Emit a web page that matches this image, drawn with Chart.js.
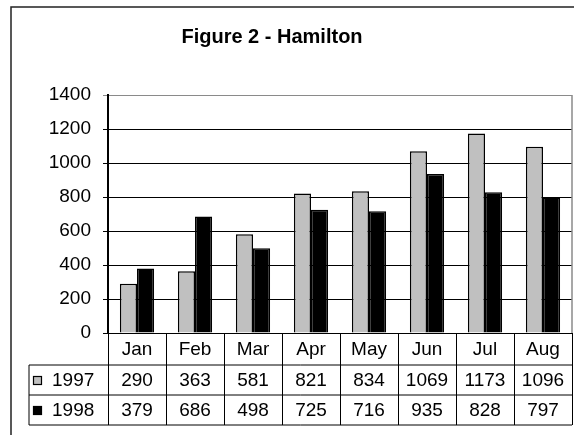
<!DOCTYPE html>
<html>
<head>
<meta charset="utf-8">
<script src="https://cdn.jsdelivr.net/npm/chart.js@4/dist/chart.umd.min.js"></script>
<style>
html, body { margin: 0; padding: 0; background: #fff; }
#wrap { width: 574px; height: 435px; position: relative; }
</style>
</head>
<body>
<div id="wrap"><canvas id="hamilton"></canvas></div>
<script>
var months = ["Jan", "Feb", "Mar", "Apr", "May", "Jun", "Jul", "Aug"];
var seriesNames = ["1997", "1998"];
var values1997 = [290, 363, 581, 821, 834, 1069, 1173, 1096];
var values1998 = [379, 686, 498, 725, 716, 935, 828, 797];
var yTicks = [0, 200, 400, 600, 800, 1000, 1200, 1400];
var titleText = "Figure 2 - Hamilton";

var fontName = "'Liberation Sans', Arial, sans-serif";
var colors = ["#c0c0c0", "#000000"];

// frame + title, drawn before the chart
var framePlugin = {
    id: 'frame',
    beforeDraw: function (chart) {
        var ctx = chart.ctx;
        ctx.save();
        ctx.fillStyle = '#fff';
        ctx.fillRect(0, 0, chart.width, chart.height);
        ctx.strokeStyle = '#222';
        ctx.lineWidth = 1.5;
        ctx.strokeRect(11, 7, chart.width + 20, chart.height + 20);
        ctx.fillStyle = '#000';
        ctx.font = 'bold 20px ' + fontName;
        ctx.textAlign = 'center';
        ctx.textBaseline = 'alphabetic';
        ctx.fillText(titleText, 272, 43);
        ctx.restore();
    }
};

// data table under the plot (like excel's "show data table")
var tablePlugin = {
    id: 'dataTable',
    afterDraw: function (chart) {
        var ctx = chart.ctx;
        var area = chart.chartArea;
        var x = chart.scales.x;
        var colW = (area.right - area.left) / months.length;
        var y0 = area.bottom, y1 = y0 + 32, y2 = y1 + 30, y3 = y2 + 30;
        var legLeft = 29;
        var rows = [values1997, values1998];

        ctx.save();
        // grey plot border right side
        ctx.strokeStyle = '#8a8a8a';
        ctx.lineWidth = 1.5;
        ctx.beginPath();
        ctx.moveTo(area.right, area.top);
        ctx.lineTo(area.right, area.bottom);
        ctx.stroke();

        ctx.strokeStyle = '#000';
        ctx.lineWidth = 1;
        ctx.beginPath();
        // horizontal lines
        ctx.moveTo(legLeft, y1); ctx.lineTo(area.right, y1);
        ctx.moveTo(legLeft, y2); ctx.lineTo(area.right, y2);
        ctx.moveTo(legLeft, y3); ctx.lineTo(area.right, y3);
        // vertical lines at category edges
        for (var i = 0; i <= months.length; i++) {
            var bx = Math.round(area.left + i * colW) + 0.5;
            ctx.moveTo(bx, y0); ctx.lineTo(bx, y3);
        }
        ctx.moveTo(legLeft, y1); ctx.lineTo(legLeft, y3);
        ctx.stroke();

        ctx.fillStyle = '#000';
        ctx.font = '19px ' + fontName;
        ctx.textAlign = 'center';
        ctx.textBaseline = 'middle';
        for (var j = 0; j < months.length; j++) {
            var cx = x.getPixelForValue(j);
            ctx.fillText(months[j], cx, (y0 + y1) / 2 + 1);
            ctx.fillText(String(rows[0][j]), cx, (y1 + y2) / 2 + 1);
            ctx.fillText(String(rows[1][j]), cx, (y2 + y3) / 2 + 1);
        }

        // legend keys
        var rowMids = [(y1 + y2) / 2, (y2 + y3) / 2];
        for (var k = 0; k < seriesNames.length; k++) {
            ctx.fillStyle = colors[k];
            ctx.fillRect(33.5, rowMids[k] - 3.5, 8, 8);
            ctx.strokeStyle = '#000';
            ctx.lineWidth = 1.2;
            ctx.strokeRect(33.5, rowMids[k] - 3.5, 8, 8);
            ctx.fillStyle = '#000';
            ctx.textAlign = 'left';
            ctx.fillText(seriesNames[k], 52, rowMids[k] + 1);
        }
        ctx.restore();
    }
};

var config = {
    type: 'bar',
    data: {
        labels: months,
        datasets: [{
            label: seriesNames[0],
            data: values1997,
            backgroundColor: colors[0],
            borderColor: '#000',
            borderWidth: 1.5,
            barPercentage: 1.0,
            categoryPercentage: 0.59
        }, {
            label: seriesNames[1],
            data: values1998,
            backgroundColor: colors[1],
            borderColor: '#000',
            borderWidth: 1.5,
            barPercentage: 1.0,
            categoryPercentage: 0.59
        }]
    },
    options: {
        responsive: true,
        maintainAspectRatio: false,
        animation: false,
        layout: { padding: { left: 0, top: 95, right: 2, bottom: 102 } },
        plugins: {
            legend: { display: false },
            title: { display: false },
            tooltip: { enabled: false }
        },
        scales: {
            x: {
                display: false,
                offset: true
            },
            y: {
                min: 0,
                max: 1400,
                afterBuildTicks: function (scale) {
                    scale.ticks = yTicks.map(function (v) { return { value: v }; });
                },
                afterFit: function (scale) { scale.width = 108; },
                border: { color: '#000', width: 2 },
                grid: {
                    color: function (c) { return c.tick && c.tick.value === 1400 ? '#8a8a8a' : '#000'; },
                    lineWidth: 1,
                    tickLength: 5,
                    drawTicks: true
                },
                ticks: {
                    color: '#000',
                    padding: 12,
                    font: { family: fontName, size: 19 },
                    callback: function (v) { return String(v); }
                }
            }
        }
    },
    plugins: [framePlugin, tablePlugin]
};

new Chart(document.getElementById("hamilton"), config);
</script>
</body>
</html>
